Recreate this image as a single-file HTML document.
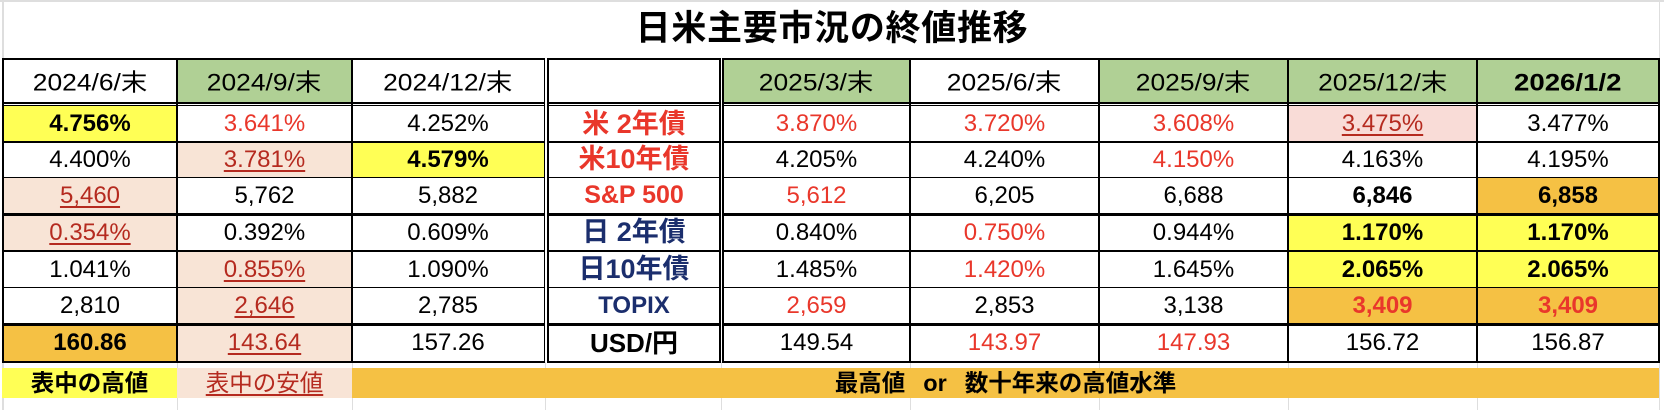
<!DOCTYPE html>
<html><head><meta charset="utf-8"><style>
html,body{margin:0;padding:0}
body{width:1664px;height:410px;overflow:hidden;background:#fff;position:relative;font-family:"Liberation Sans","Noto Sans CJK JP",sans-serif}
.c{position:absolute;text-align:center;white-space:nowrap;font-size:24px;color:#000;z-index:1}
.l{position:absolute;background:#000;z-index:2}
.g{position:absolute;background:#dedede;z-index:0}
.x1{left:3px;width:174px}.x2{left:177px;width:175px}.x3{left:352px;width:192px}
.x4{left:548px;width:172px}.x5{left:723px;width:187px}.x6{left:910px;width:189px}
.x7{left:1099px;width:189px}.x8{left:1288px;width:189px}.x9{left:1477px;width:182px}
.y0{top:60px;height:42px;line-height:42px}
.y1{top:106px;height:36px;line-height:36px}
.y2{top:142px;height:35px;line-height:35px}
.y3{top:177px;height:37px;line-height:37px}
.y4{top:214px;height:37px;line-height:37px}
.y5{top:251px;height:37px;line-height:37px}
.y6{top:288px;height:36px;line-height:36px}
.y7{top:324px;height:38px;line-height:38px}
.grn{background:#b0d095}.yel{background:#ffff55}.pch{background:#f8e4d6}.pnk{background:#f9dcd7}.org{background:#f5c144}
.b{font-weight:bold}.r{color:#e9372b}.n{color:#1b2e6d}
.u{color:#b52a1f;text-decoration:underline;text-decoration-thickness:2px;text-underline-offset:3px}
.h{display:inline-block;transform:translateY(2.5px) scaleX(1.1)}
.lab{font-size:27px;font-weight:bold}
.lg{position:absolute;top:368px;height:30px;line-height:30px;text-align:center;white-space:nowrap;font-size:23.5px;z-index:1}
.title{position:absolute;left:0;top:1px;width:1664px;height:50px;line-height:50px;text-align:center;font-family:"Noto Sans CJK JP",sans-serif;font-weight:bold;font-size:35px;letter-spacing:0.7px;color:#000}
</style></head><body>

<!-- gridlines -->
<div class="g" style="left:0;top:0;width:1664px;height:1.5px"></div>
<div class="g" style="left:2px;top:0;width:1.5px;height:58px"></div>
<div class="g" style="left:1658.5px;top:0;width:1.5px;height:58px"></div>
<div class="g" style="left:2px;top:362px;width:1.5px;height:48px"></div>
<div class="g" style="left:176.5px;top:362px;width:1.2px;height:48px"></div>
<div class="g" style="left:351.5px;top:362px;width:1.2px;height:48px"></div>
<div class="g" style="left:545px;top:362px;width:1.2px;height:48px"></div>
<div class="g" style="left:721px;top:362px;width:1.2px;height:48px"></div>
<div class="g" style="left:909.5px;top:362px;width:1.2px;height:48px"></div>
<div class="g" style="left:1098.5px;top:362px;width:1.2px;height:48px"></div>
<div class="g" style="left:1287.5px;top:362px;width:1.2px;height:48px"></div>
<div class="g" style="left:1476.5px;top:362px;width:1.2px;height:48px"></div>
<div class="g" style="left:1658.5px;top:362px;width:1.5px;height:48px"></div>

<div class="title">日米主要市況の終値推移</div>

<!-- header -->
<div class="c x1 y0"><span class="h">2024/6/末</span></div>
<div class="c x2 y0 grn"><span class="h">2024/9/末</span></div>
<div class="c x3 y0"><span class="h">2024/12/末</span></div>
<div class="c x4 y0"></div>
<div class="c x5 y0 grn"><span class="h">2025/3/末</span></div>
<div class="c x6 y0"><span class="h">2025/6/末</span></div>
<div class="c x7 y0 grn"><span class="h">2025/9/末</span></div>
<div class="c x8 y0 grn"><span class="h">2025/12/末</span></div>
<div class="c x9 y0 grn b"><span class="h" style="transform:translateY(2.5px) scaleX(1.15)">2026/1/2</span></div>

<!-- row1 -->
<div class="c x1 y1 yel b">4.756%</div>
<div class="c x2 y1 r">3.641%</div>
<div class="c x3 y1">4.252%</div>
<div class="c x4 y1 lab r">米 2年債</div>
<div class="c x5 y1 r">3.870%</div>
<div class="c x6 y1 r">3.720%</div>
<div class="c x7 y1 r">3.608%</div>
<div class="c x8 y1 pnk"><span class="u">3.475%</span></div>
<div class="c x9 y1">3.477%</div>

<!-- row2 -->
<div class="c x1 y2">4.400%</div>
<div class="c x2 y2 pch"><span class="u">3.781%</span></div>
<div class="c x3 y2 yel b">4.579%</div>
<div class="c x4 y2 lab r">米10年債</div>
<div class="c x5 y2">4.205%</div>
<div class="c x6 y2">4.240%</div>
<div class="c x7 y2 r">4.150%</div>
<div class="c x8 y2">4.163%</div>
<div class="c x9 y2">4.195%</div>

<!-- row3 -->
<div class="c x1 y3 pch"><span class="u">5,460</span></div>
<div class="c x2 y3">5,762</div>
<div class="c x3 y3">5,882</div>
<div class="c x4 y3 lab r" style="font-size:25px">S&amp;P 500</div>
<div class="c x5 y3 r">5,612</div>
<div class="c x6 y3">6,205</div>
<div class="c x7 y3">6,688</div>
<div class="c x8 y3 b">6,846</div>
<div class="c x9 y3 org b">6,858</div>

<!-- row4 -->
<div class="c x1 y4 pch"><span class="u">0.354%</span></div>
<div class="c x2 y4">0.392%</div>
<div class="c x3 y4">0.609%</div>
<div class="c x4 y4 lab n">日 2年債</div>
<div class="c x5 y4">0.840%</div>
<div class="c x6 y4 r">0.750%</div>
<div class="c x7 y4">0.944%</div>
<div class="c x8 y4 yel b">1.170%</div>
<div class="c x9 y4 yel b">1.170%</div>

<!-- row5 -->
<div class="c x1 y5">1.041%</div>
<div class="c x2 y5 pch"><span class="u">0.855%</span></div>
<div class="c x3 y5">1.090%</div>
<div class="c x4 y5 lab n">日10年債</div>
<div class="c x5 y5">1.485%</div>
<div class="c x6 y5 r">1.420%</div>
<div class="c x7 y5">1.645%</div>
<div class="c x8 y5 yel b">2.065%</div>
<div class="c x9 y5 yel b">2.065%</div>

<!-- row6 -->
<div class="c x1 y6">2,810</div>
<div class="c x2 y6 pch"><span class="u">2,646</span></div>
<div class="c x3 y6">2,785</div>
<div class="c x4 y6 lab n" style="font-size:24px">TOPIX</div>
<div class="c x5 y6 r">2,659</div>
<div class="c x6 y6">2,853</div>
<div class="c x7 y6">3,138</div>
<div class="c x8 y6 org b r">3,409</div>
<div class="c x9 y6 org b r">3,409</div>

<!-- row7 -->
<div class="c x1 y7 org b">160.86</div>
<div class="c x2 y7 pch"><span class="u">143.64</span></div>
<div class="c x3 y7">157.26</div>
<div class="c x4 y7 lab" style="font-size:26px">USD/円</div>
<div class="c x5 y7">149.54</div>
<div class="c x6 y7 r">143.97</div>
<div class="c x7 y7 r">147.93</div>
<div class="c x8 y7">156.72</div>
<div class="c x9 y7">156.87</div>

<!-- horizontal lines: block A -->
<div class="l" style="left:2px;top:58px;width:543.2px;height:2px"></div>
<div class="l" style="left:2px;top:102px;width:543.2px;height:1.5px"></div>
<div class="l" style="left:2px;top:104.9px;width:543.2px;height:1.5px"></div>
<div class="l" style="left:2px;top:141px;width:543.2px;height:1.6px"></div>
<div class="l" style="left:2px;top:176.6px;width:543.2px;height:1.6px"></div>
<div class="l" style="left:2px;top:212.8px;width:543.2px;height:3px"></div>
<div class="l" style="left:2px;top:250.2px;width:543.2px;height:1.6px"></div>
<div class="l" style="left:2px;top:286.9px;width:543.2px;height:1.6px"></div>
<div class="l" style="left:2px;top:322.8px;width:543.2px;height:3px"></div>
<div class="l" style="left:2px;top:360.6px;width:543.2px;height:2px"></div>
<!-- block B -->
<div class="l" style="left:547px;top:58px;width:174px;height:2px"></div>
<div class="l" style="left:547px;top:102px;width:174px;height:1.5px"></div>
<div class="l" style="left:547px;top:104.9px;width:174px;height:1.5px"></div>
<div class="l" style="left:547px;top:141px;width:174px;height:1.6px"></div>
<div class="l" style="left:547px;top:176.6px;width:174px;height:1.6px"></div>
<div class="l" style="left:547px;top:212.8px;width:174px;height:3px"></div>
<div class="l" style="left:547px;top:250.2px;width:174px;height:1.6px"></div>
<div class="l" style="left:547px;top:286.9px;width:174px;height:1.6px"></div>
<div class="l" style="left:547px;top:322.8px;width:174px;height:3px"></div>
<div class="l" style="left:547px;top:360.6px;width:174px;height:2px"></div>
<!-- block C -->
<div class="l" style="left:722.3px;top:58px;width:937.7px;height:2px"></div>
<div class="l" style="left:722.3px;top:102px;width:937.7px;height:1.5px"></div>
<div class="l" style="left:722.3px;top:104.9px;width:937.7px;height:1.5px"></div>
<div class="l" style="left:722.3px;top:141px;width:937.7px;height:1.6px"></div>
<div class="l" style="left:722.3px;top:176.6px;width:937.7px;height:1.6px"></div>
<div class="l" style="left:722.3px;top:212.8px;width:937.7px;height:3px"></div>
<div class="l" style="left:722.3px;top:250.2px;width:937.7px;height:1.6px"></div>
<div class="l" style="left:722.3px;top:286.9px;width:937.7px;height:1.6px"></div>
<div class="l" style="left:722.3px;top:322.8px;width:937.7px;height:3px"></div>
<div class="l" style="left:722.3px;top:360.6px;width:937.7px;height:2px"></div>

<!-- vertical lines -->
<div class="l" style="left:2px;top:58px;width:2px;height:304.6px"></div>
<div class="l" style="left:176px;top:58px;width:1.8px;height:304.6px"></div>
<div class="l" style="left:351px;top:58px;width:1.8px;height:304.6px"></div>
<div class="l" style="left:543.5px;top:58px;width:1.7px;height:304.6px"></div>
<div class="l" style="left:547px;top:58px;width:1.7px;height:304.6px"></div>
<div class="l" style="left:719.3px;top:58px;width:1.7px;height:304.6px"></div>
<div class="l" style="left:722.3px;top:58px;width:1.7px;height:304.6px"></div>
<div class="l" style="left:909.2px;top:58px;width:1.8px;height:304.6px"></div>
<div class="l" style="left:1098px;top:58px;width:1.8px;height:304.6px"></div>
<div class="l" style="left:1287px;top:58px;width:1.8px;height:304.6px"></div>
<div class="l" style="left:1476px;top:58px;width:1.8px;height:304.6px"></div>
<div class="l" style="left:1658px;top:58px;width:2px;height:304.6px"></div>

<!-- legend -->
<div class="lg yel" style="left:2px;width:175px;font-weight:bold">表中の高値</div>
<div class="lg pch" style="left:177px;width:175px"><span class="u">表中の安値</span></div>
<div class="lg org" style="left:352px;width:1307px;font-weight:bold">最高値<span style="margin:0 18px">or</span>数十年来の高値水準</div>

</body></html>
